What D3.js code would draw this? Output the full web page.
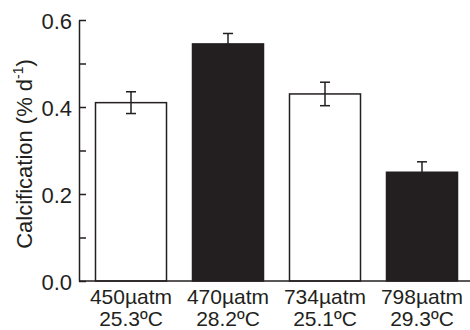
<!DOCTYPE html>
<html>
<head>
<meta charset="utf-8">
<script src="https://cdn.jsdelivr.net/npm/d3@7"></script>
<style>
  body { margin: 0; background: #fff; }
  svg text { font-family: "Liberation Sans", Arial, sans-serif; fill: #231f20; }
</style>
</head>
<body>
<div id="chart"></div>
<script>
// data
const co2Labels = ['450µatm', '470µatm', '734µatm', '798µatm'];
const tempLabels = ['25.3ºC', '28.2ºC', '25.1ºC', '29.3ºC'];
const calcification = [0.41, 0.545, 0.43, 0.25];
const errors = [0.025, 0.024, 0.027, 0.024];
const dark = [false, true, false, true];
const yTicks = [0.0, 0.2, 0.4, 0.6];
const yMinorTicks = [0.1, 0.3, 0.5];

const config = {
  width: 470,
  height: 330,
  margin: { top: 20, right: 0, bottom: 49, left: 79 },
  ink: '#231f20'
};

const svg = d3.select('#chart')
  .append('svg')
    .attr('width', config.width)
    .attr('height', config.height);

const innerH = config.height - config.margin.top - config.margin.bottom;

const yScale = d3.scaleLinear()
  .domain([0, 0.6])
  .range([innerH, 0]);

const xScale = d3.scaleBand()
  .domain(co2Labels)
  .range([3.5, 391.5])
  .paddingInner(0.268)
  .paddingOuter(0.134);

const chart = svg.append('g')
  .attr('transform', `translate(${config.margin.left}, ${config.margin.top})`);

// bars
chart.selectAll('.bar')
  .data(calcification)
  .join('rect')
    .attr('class', 'bar')
    .attr('x', (d, i) => xScale(co2Labels[i]))
    .attr('y', d => yScale(d))
    .attr('width', xScale.bandwidth())
    .attr('height', d => yScale(0) - yScale(d))
    .attr('fill', (d, i) => dark[i] ? config.ink : '#fff')
    .attr('stroke', config.ink)
    .attr('stroke-width', 1.5);

// error bars (light bars get both sides, dark bars only the upper whisker)
const errData = calcification.map((v, i) => ({ v, e: errors[i], dark: dark[i], key: co2Labels[i] }));

const err = chart.selectAll('.err')
  .data(errData)
  .join('g')
    .attr('class', 'err')
    .attr('transform', d => `translate(${xScale(d.key) + xScale.bandwidth() / 2}, 0)`);

err.append('line')
  .attr('y1', d => yScale(d.v + d.e))
  .attr('y2', d => d.dark ? yScale(d.v) : yScale(d.v - d.e))
  .attr('stroke', config.ink)
  .attr('stroke-width', 1.5);

err.append('line')
  .attr('x1', -5).attr('x2', 5)
  .attr('y1', d => yScale(d.v + d.e))
  .attr('y2', d => yScale(d.v + d.e))
  .attr('stroke', config.ink)
  .attr('stroke-width', 1.5);

err.filter(d => !d.dark).append('line')
  .attr('x1', -5).attr('x2', 5)
  .attr('y1', d => yScale(d.v - d.e))
  .attr('y2', d => yScale(d.v - d.e))
  .attr('stroke', config.ink)
  .attr('stroke-width', 1.5);

// y axis, ticks pointing inward
const yAxis = d3.axisLeft(yScale)
  .tickValues(yTicks)
  .tickSizeInner(-7)
  .tickSizeOuter(0)
  .tickPadding(7)
  .tickFormat(d3.format('.1f'));

const yAxisG = chart.append('g')
  .attr('class', 'axis y-axis')
  .call(yAxis);

yAxisG.select('.domain').attr('stroke', config.ink).attr('stroke-width', 1.5);
yAxisG.selectAll('.tick line').attr('stroke', config.ink).attr('stroke-width', 1.5);
yAxisG.selectAll('.tick text')
  .attr('font-size', 22)
  .attr('fill', config.ink)
  .attr('dy', '0.38em');
yAxisG.attr('font-family', null);

const minorG = chart.append('g')
  .attr('class', 'axis y-minor')
  .call(d3.axisLeft(yScale).tickValues(yMinorTicks).tickSizeInner(-7).tickSizeOuter(0).tickFormat(() => ''));
minorG.select('.domain').remove();
minorG.selectAll('.tick line').attr('stroke', config.ink).attr('stroke-width', 1.5);

// baseline
chart.append('line')
  .attr('x1', 0).attr('x2', config.width - config.margin.left)
  .attr('y1', yScale(0)).attr('y2', yScale(0))
  .attr('stroke', config.ink)
  .attr('stroke-width', 1.5);

// category labels (two lines)
const cat = chart.selectAll('.cat')
  .data(co2Labels)
  .join('text')
    .attr('class', 'cat')
    .attr('text-anchor', 'middle')
    .attr('font-size', 21)
    .attr('transform', d => `translate(${xScale(d) + xScale.bandwidth() / 2}, ${yScale(0) + 23})`);

cat.append('tspan').attr('x', 0).text(d => d);
cat.append('tspan').attr('x', 0).attr('dy', 22).text((d, i) => tempLabels[i]);

// y axis title
const yTitle = svg.append('text')
  .attr('text-anchor', 'middle')
  .attr('font-size', 22)
  .attr('transform', `translate(32, 154) rotate(-90)`);

yTitle.append('tspan').text('Calcification (% d');
yTitle.append('tspan').attr('font-size', 14).attr('dy', -9).text('-1');
yTitle.append('tspan').attr('dy', 9).text(')');
</script>
</body>
</html>
